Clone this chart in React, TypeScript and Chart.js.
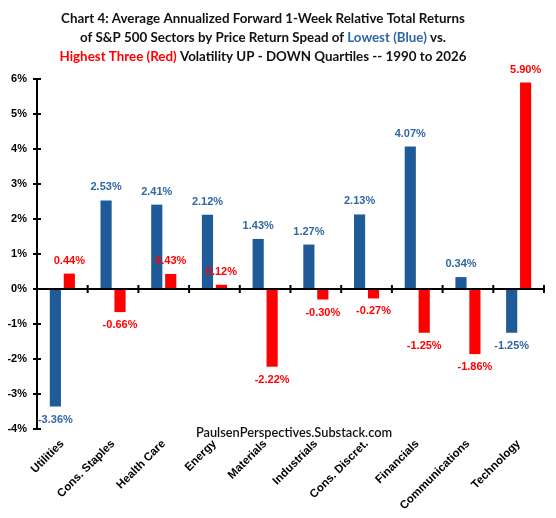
import { useEffect, useRef } from "react";
import { Chart, registerables, Plugin } from "chart.js";

Chart.register(...registerables);

const sectors = [
  "Utilities",
  "Cons. Staples",
  "Health Care",
  "Energy",
  "Materials",
  "Industrials",
  "Cons. Discret.",
  "Financials",
  "Communications",
  "Technology",
];
const lowestThree = [-3.36, 2.53, 2.41, 2.12, 1.43, 1.27, 2.13, 4.07, 0.34, -1.25];
const highestThree = [0.44, -0.66, 0.43, 0.12, -2.22, -0.3, -0.27, -1.25, -1.86, 5.9];

const BLUE_BAR = "#1F5A99";
const BLUE_TEXT = "#2F67A5";
const RED = "#FF0000";
const LABEL_FONT = "bold 11px 'Liberation Sans', Arial, sans-serif";

// title lines, each split into coloured pieces
const titleLines: [string, string][][] = [
  [["Chart 4: Average Annualized Forward 1-Week Relative Total Returns", "#111"]],
  [
    ["of S&P 500 Sectors by Price Return Spead of ", "#111"],
    ["Lowest (Blue)", BLUE_TEXT],
    [" vs.", "#111"],
  ],
  [
    ["Highest Three (Red)", RED],
    [" Volatility UP - DOWN Quartiles -- 1990 to 2026", "#111"],
  ],
];

const fitFont = (ctx: CanvasRenderingContext2D, text: string, target: number, family: string) => {
  ctx.font = `bold 15px ${family}`;
  const size = (15 * target) / ctx.measureText(text).width;
  return `bold ${size.toFixed(2)}px ${family}`;
};

const decorPlugin: Plugin = {
  id: "decor",
  afterDraw(chart) {
    const { ctx, chartArea } = chart;
    const x = chart.scales.x;
    const y = chart.scales.y;
    ctx.save();

    // title
    const family = "Lato, 'Open Sans', sans-serif";
    ctx.font = fitFont(ctx, titleLines[0][0][0], 404, family);
    ctx.textBaseline = "middle";
    ctx.textAlign = "left";
    titleLines.forEach((line, i) => {
      const total = line.reduce((s, [t]) => s + ctx.measureText(t).width, 0);
      let cx = 263 - total / 2;
      line.forEach(([t, c]) => {
        ctx.fillStyle = c;
        ctx.fillText(t, cx, 19 + i * 19);
        cx += ctx.measureText(t).width;
      });
    });

    // axis lines and tick marks
    const y0 = y.getPixelForValue(0);
    ctx.strokeStyle = "#000";
    ctx.lineWidth = 2;
    ctx.beginPath();
    ctx.moveTo(chartArea.left, chartArea.top);
    ctx.lineTo(chartArea.left, chartArea.bottom);
    ctx.moveTo(chartArea.left, y0);
    ctx.lineTo(chartArea.right, y0);
    y.ticks.forEach((t) => {
      const py = y.getPixelForValue(t.value);
      ctx.moveTo(chartArea.left - 4, py);
      ctx.lineTo(chartArea.left + 4, py);
    });
    const step = (chartArea.right - chartArea.left) / sectors.length;
    for (let i = 1; i <= sectors.length; i++) {
      const px = x.left + i * step;
      ctx.moveTo(px, y0 - 4);
      ctx.lineTo(px, y0 + 4);
    }
    ctx.stroke();

    // value labels
    ctx.font = LABEL_FONT;
    ctx.textAlign = "center";
    ctx.textBaseline = "middle";
    chart.data.datasets.forEach((ds, di) => {
      const meta = chart.getDatasetMeta(di);
      ctx.fillStyle = di === 0 ? BLUE_TEXT : RED;
      meta.data.forEach((bar, i) => {
        const v = ds.data[i] as number;
        const py = v >= 0 ? bar.y - 13 : bar.y + 13;
        ctx.fillText(v.toFixed(2) + "%", bar.x, py);
      });
    });

    // watermark
    ctx.fillStyle = "#111";
    ctx.font = fitFont(ctx, "PaulsenPerspectives.Substack.com", 198, family).replace("bold", "600");
    ctx.fillText("PaulsenPerspectives.Substack.com", 294, 433);
    ctx.restore();
  },
};

export default function App() {
  const chartRef = useRef<HTMLCanvasElement | null>(null);

  useEffect(() => {
    document.body.style.margin = "0";
    if (!chartRef.current) return;
    const ctx = chartRef.current.getContext("2d");
    if (!ctx) return;

    const myChart = new Chart(ctx, {
      type: "bar",
      data: {
        labels: sectors,
        datasets: [
          {
            label: "Lowest Three",
            data: lowestThree,
            backgroundColor: BLUE_BAR,
            categoryPercentage: 0.55,
            barPercentage: 0.8,
          },
          {
            label: "Highest Three",
            data: highestThree,
            backgroundColor: RED,
            categoryPercentage: 0.55,
            barPercentage: 0.8,
          },
        ],
      },
      options: {
        responsive: false,
        animation: false,
        layout: { padding: { top: 79, right: 12, left: 0, bottom: 0 } },
        plugins: {
          legend: { display: false },
          tooltip: { enabled: false },
          title: { display: false },
        },
        scales: {
          x: {
            grid: { display: false, drawTicks: false },
            border: { display: false },
            ticks: {
              color: "#000",
              font: { family: "'Liberation Sans', Arial, sans-serif", size: 11.5, weight: "bold" },
              minRotation: 45,
              maxRotation: 45,
              padding: 8,
              autoSkip: false,
            },
            afterFit: (scale) => {
              scale.height = 89;
            },
          },
          y: {
            min: -4,
            max: 6,
            grid: { display: false, drawTicks: false },
            border: { display: false },
            ticks: {
              stepSize: 1,
              color: "#000",
              padding: 10,
              font: { family: "'Liberation Sans', Arial, sans-serif", size: 11, weight: "bold" },
              callback: (v) => v + "%",
            },
            afterFit: (scale) => {
              scale.width = 37;
            },
          },
        },
      },
      plugins: [decorPlugin],
    });

    return () => {
      myChart.destroy();
    };
  }, []);

  return (
    <div style={{ width: 556, height: 518 }}>
      <canvas ref={chartRef} width="556" height="518"></canvas>
    </div>
  );
}
